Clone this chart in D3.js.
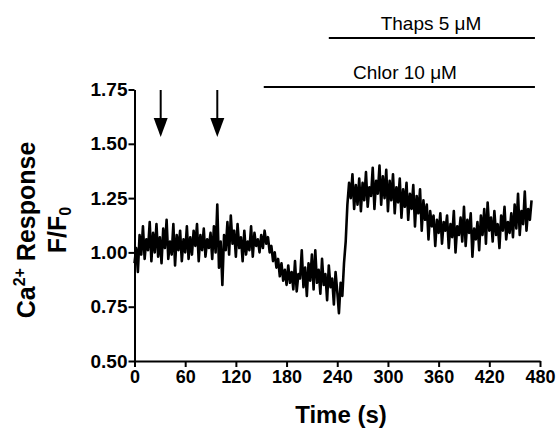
<!DOCTYPE html>
<html>
<head>
<meta charset="utf-8">
<script src="https://cdn.jsdelivr.net/npm/d3@7"></script>
<style>
  body { margin: 0; background: #fff; }
  svg { display: block; font-family: "Liberation Sans", Arial, sans-serif; }
  .axis path, .axis line { stroke: #000; stroke-width: 2px; }
  .axis text { font-weight: bold; fill: #000; }
</style>
</head>
<body>
<svg id="chart" width="556" height="429"></svg>
<script>
// sampling interval of the trace (s)
const sampleInterval = 2;

// F/F0, every 2 s from t = 0 to 470 s
const response = [
  0.95, 1.02, 0.91, 1.08, 0.99, 1.12, 0.97, 1.06, 1.01, 1.14, 0.96, 1.09, 1.00, 1.13, 0.98,
  1.07, 0.95, 1.11, 1.02, 1.15, 0.97, 1.05, 0.99, 1.13, 0.94, 1.08, 1.01, 1.10, 0.96, 1.06,
  1.00, 1.12, 0.97, 1.07, 0.99, 1.10, 1.03, 1.13, 0.96, 1.08, 1.01, 1.11, 0.98, 1.06, 1.02,
  1.09, 0.97, 1.12, 1.00, 1.22, 0.93, 1.05, 0.85, 1.08, 1.01, 1.14, 0.99, 1.17, 1.04, 1.10,
  0.98, 1.13, 1.02, 1.07, 0.96, 1.10, 0.99, 1.05, 1.01, 1.12, 0.98, 1.09, 1.03, 1.06, 1.00,
  1.08, 1.02, 1.10, 1.04, 1.07, 1.00, 1.03, 0.96, 1.00, 0.93, 0.97, 0.89, 0.95, 0.87, 0.92,
  0.85, 0.94, 0.86, 0.91, 0.83, 0.96, 0.82, 0.90, 0.88, 1.01, 0.84, 0.93, 0.80, 0.95, 0.87,
  0.99, 0.83, 1.01, 0.86, 0.92, 0.81, 0.97, 0.85, 0.90, 0.78, 0.94, 0.84, 0.88, 0.76, 0.91,
  0.82, 0.72, 0.86, 0.80, 0.95, 1.05, 1.22, 1.32, 1.25, 1.36, 1.20, 1.31, 1.22, 1.34, 1.19,
  1.32, 1.24, 1.37, 1.21, 1.30, 1.26, 1.39, 1.20, 1.33, 1.27, 1.40, 1.22, 1.35, 1.25, 1.38,
  1.19, 1.33, 1.24, 1.36, 1.18, 1.30, 1.23, 1.34, 1.16, 1.29, 1.21, 1.32, 1.15, 1.27, 1.20,
  1.31, 1.12, 1.26, 1.18, 1.29, 1.10, 1.24, 1.15, 1.22, 1.06, 1.19, 1.12, 1.17, 1.03, 1.15,
  1.09, 1.18, 1.04, 1.14, 1.10, 1.17, 1.02, 1.13, 1.07, 1.19, 1.00, 1.12, 1.08, 1.16, 1.05,
  1.21, 1.03, 1.15, 1.09, 1.18, 0.98, 1.11, 1.06, 1.14, 1.01, 1.17, 1.08, 1.20, 1.04, 1.23,
  1.10, 1.16, 1.05, 1.19, 1.08, 1.13, 1.02, 1.17, 1.10, 1.21, 1.06, 1.14, 1.09, 1.18, 1.07,
  1.22, 1.11, 1.27, 1.08, 1.19, 1.13, 1.28, 1.10, 1.20, 1.15, 1.24
];

const xTicks = [0, 60, 120, 180, 240, 300, 360, 420, 480];
const yTicks = [0.50, 0.75, 1.00, 1.25, 1.50, 1.75];

// drug application arrows (s)
const arrowTimes = [31, 98];

// treatment bars: label, start and end (s)
const treatments = [
  {label: "Thaps 5 \u03bcM", start: 230, end: 474, row: 0},
  {label: "Chlor 10 \u03bcM", start: 153, end: 474, row: 1}
];

const svg = d3.select("#chart");

const x = d3.scaleLinear().domain([0, 480]).range([134.5, 540]);
const y = d3.scaleLinear().domain([0.5, 1.75]).range([361, 89.5]);

// axes
svg.append("g")
    .attr("class", "axis")
    .attr("transform", "translate(0,361)")
    .call(d3.axisBottom(x).tickValues(xTicks).tickSize(6).tickSizeOuter(0).tickPadding(3))
    .selectAll("text").style("font-size", "18px");

svg.append("g")
    .attr("class", "axis")
    .attr("transform", "translate(134.5,0)")
    .call(d3.axisLeft(y).tickValues(yTicks).tickFormat(d3.format(".2f")).tickSize(6).tickSizeOuter(0).tickPadding(1))
    .selectAll("text").style("font-size", "19px");

// trace
const line = d3.line()
    .x((d, i) => x(i * sampleInterval))
    .y(d => y(d));

svg.append("path")
    .datum(response)
    .attr("d", line)
    .attr("fill", "none")
    .attr("stroke", "#000")
    .attr("stroke-width", 2.6)
    .attr("stroke-linejoin", "round");

// arrows
const arrows = svg.selectAll(".arrow").data(arrowTimes).enter().append("g").attr("class", "arrow");
arrows.append("line")
    .attr("x1", d => x(d)).attr("x2", d => x(d))
    .attr("y1", 90).attr("y2", 122)
    .attr("stroke", "#000").attr("stroke-width", 2);
arrows.append("path")
    .attr("d", d => `M${x(d) - 7},118 L${x(d) + 7},118 L${x(d)},137 Z`)
    .attr("fill", "#000");

// treatment bars
const rowY = [38, 87];
const bars = svg.selectAll(".treat").data(treatments).enter().append("g").attr("class", "treat");
bars.append("line")
    .attr("x1", d => x(d.start)).attr("x2", d => x(d.end))
    .attr("y1", d => rowY[d.row]).attr("y2", d => rowY[d.row])
    .attr("stroke", "#000").attr("stroke-width", 2);
bars.append("text")
    .attr("x", d => d.row === 0 ? 431 : 405)
    .attr("y", d => rowY[d.row] - 8)
    .attr("text-anchor", "middle")
    .style("font-size", "19px")
    .text(d => d.label);

// axis titles
svg.append("text")
    .attr("x", 341).attr("y", 423)
    .attr("text-anchor", "middle")
    .style("font-size", "24px").style("font-weight", "bold")
    .text("Time (s)");

const yTitle = svg.append("text")
    .attr("transform", "translate(35,230) rotate(-90)")
    .attr("text-anchor", "middle")
    .style("font-size", "25px").style("font-weight", "bold");
yTitle.append("tspan").text("Ca");
yTitle.append("tspan").attr("dy", -10).style("font-size", "16px").text("2+");
yTitle.append("tspan").attr("dy", 10).text(" Response");

const yTitle2 = svg.append("text")
    .attr("transform", "translate(66,230) rotate(-90)")
    .attr("text-anchor", "middle")
    .style("font-size", "25px").style("font-weight", "bold");
yTitle2.append("tspan").text("F/F");
yTitle2.append("tspan").attr("dy", 5).style("font-size", "16px").text("0");
</script>
</body>
</html>
